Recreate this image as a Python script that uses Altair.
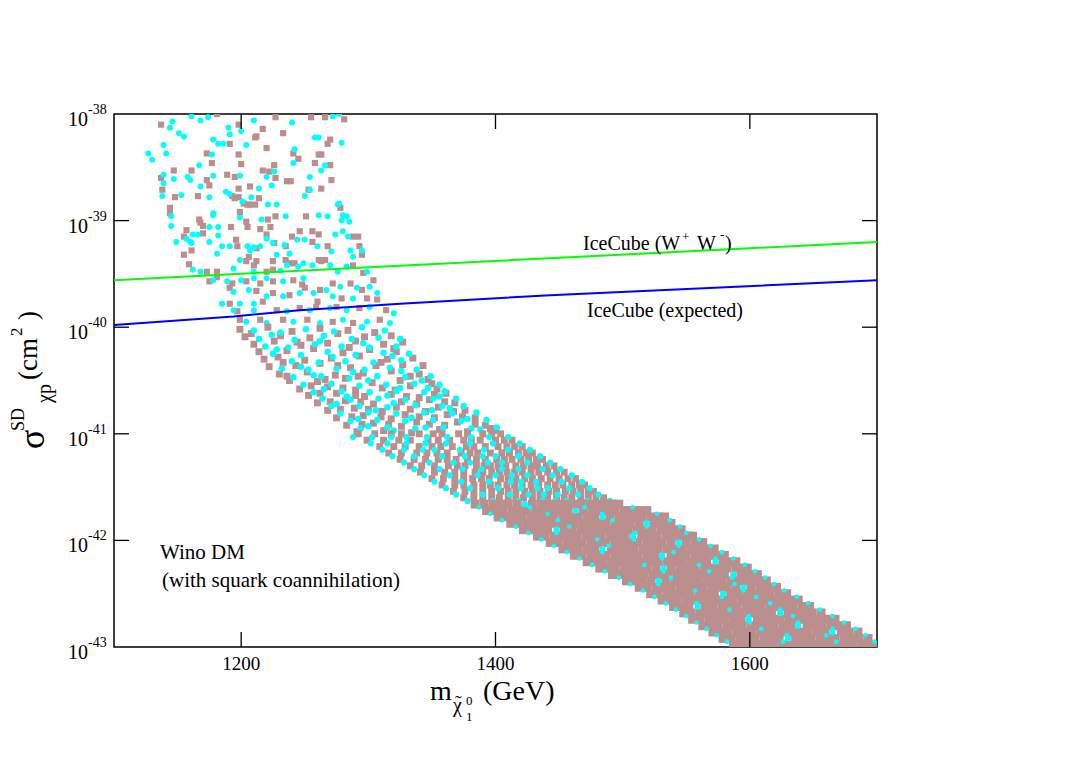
import altair as alt
import pandas as pd

FONT = "Liberation Serif"
W, H = 763, 533

# ---------------- data (mass in GeV, log10 of sigma in cm^2) ----------------
x_ticks = [1200, 1400, 1600]
y_tick_exps = [-38, -39, -40, -41, -42, -43]

ice_ww_mass = [1100, 1246, 1482, 1700]
ice_ww_log = [-39.56, -39.47, -39.33, -39.20]
ice_expct_mass = [1100, 1194, 1246, 1325, 1443, 1700]
ice_expct_log = [-39.98, -39.90, -39.84, -39.78, -39.70, -39.56]

cyan_upper = [
    (1161,-38.02),(1168,-38.06),(1174,-38.03),(1146,-38.07),(1144,-38.13),(1200,-38.16),(1210,-38.06),
    (1272,-38.02),(1277,-38.00),(1240,-38.08),(1190,-38.13),(1191,-38.19),(1151,-38.18),(1155,-38.21),
    (1178,-38.24),(1182,-38.28),(1186,-38.28),(1204,-38.29),(1258,-38.22),(1261,-38.22),(1279,-38.27),
    (1139,-38.29),(1127,-38.37),(1130,-38.43),(1141,-38.37),(1177,-38.38),(1242,-38.33),
    (1241,-38.46),(1167,-38.48),(1226,-38.54),(1263,-38.53),(1266,-38.48),(1254,-38.59),(1139,-38.57),
    (1147,-38.61),(1158,-38.59),(1160,-38.62),(1178,-38.58),(1199,-38.58),(1220,-38.59),
    (1168,-38.68),(1214,-38.70),(1224,-38.67),(1139,-38.65),(1153,-38.76),(1138,-38.77),(1175,-38.78),
    (1188,-38.73),(1191,-38.75),(1201,-38.82),(1208,-38.78),(1221,-38.85),(1228,-38.85),(1250,-38.77),
    (1254,-38.71),(1277,-38.84),
    (1145,-38.96),(1145,-39.05),(1175,-39.06),(1178,-38.93),(1178,-38.95),(1199,-38.97),(1216,-38.99),
    (1235,-38.96),(1261,-38.95),(1268,-38.96),(1280,-38.95),(1283,-38.96),(1279,-39.00),(1285,-39.01),
    (1276,-38.85),(1182,-39.06),
    (1157,-39.17),(1162,-39.13),(1166,-39.13),(1175,-39.20),(1149,-39.20),(1160,-39.20),(1161,-39.21),
    (1182,-39.14),(1185,-39.24),(1191,-39.24),(1181,-39.31),(1205,-39.24),(1207,-39.28),(1210,-39.25),
    (1215,-39.24),(1225,-39.21),(1220,-39.17),(1234,-39.23),(1244,-39.18),(1250,-39.18),(1260,-39.24),
    (1274,-39.13),(1280,-39.10),(1284,-39.15),(1286,-39.28),(1295,-39.28),(1271,-39.29),(1288,-39.34),
    (1238,-39.31),
    (1162,-39.46),(1168,-39.48),(1194,-39.45),(1199,-39.37),(1228,-39.32),(1236,-39.42),(1245,-39.43),
    (1249,-39.40),(1256,-39.42),(1270,-39.42),(1276,-39.48),(1283,-39.43),(1299,-39.48),(1210,-39.48),
    (1231,-39.47),
    (1178,-39.56),(1189,-39.57),(1200,-39.56),(1210,-39.54),(1220,-39.54),(1233,-39.57),(1249,-39.54),
    (1194,-39.67),(1206,-39.65),(1220,-39.71),(1233,-39.71),(1246,-39.68),(1257,-39.68),(1267,-39.65),
    (1278,-39.62),(1291,-39.63),(1301,-39.62),(1272,-39.71),(1288,-39.73),(1307,-39.68),(1185,-39.78),
    (1199,-39.78),(1210,-39.78),
    (1194,-39.84),(1210,-39.84),(1236,-39.85),(1254,-39.84),(1270,-39.82),(1283,-39.84),(1301,-39.81),
    (1320,-39.87),(1204,-39.95),(1220,-39.96),(1241,-39.95),(1262,-39.96),(1280,-39.93),(1299,-39.95),
    (1317,-39.96),
]

brown_upper = [
    (1181,-38.00),(1137,-38.10),(1227,-38.03),(1255,-38.03),(1266,-38.03),(1281,-38.05),(1233,-38.18),
    (1212,-38.21),(1217,-38.14),(1198,-38.10),
    (1191,-38.28),(1211,-38.22),(1220,-38.32),(1270,-38.24),(1268,-38.28),(1173,-38.37),(1241,-38.37),
    (1198,-38.38),
    (1245,-38.42),(1261,-38.38),(1263,-38.38),(1258,-38.46),(1177,-38.46),(1200,-38.47),(1226,-38.48),
    (1270,-38.48),(1147,-38.53),(1161,-38.53),(1137,-38.60),(1173,-38.62),(1189,-38.57),(1195,-38.59),
    (1217,-38.53),(1222,-38.54),(1227,-38.60),(1236,-38.63),(1239,-38.63),(1271,-38.62),
    (1175,-38.67),(1207,-38.68),(1198,-38.70),(1138,-38.71),(1148,-38.78),(1166,-38.77),(1193,-38.77),
    (1195,-38.79),(1198,-38.78),(1202,-38.84),(1205,-38.85),(1207,-38.85),(1211,-38.85),(1214,-38.79),
    (1253,-38.71),(1263,-38.70),
    (1144,-38.88),(1144,-38.93),(1167,-38.99),(1168,-39.02),(1170,-39.05),(1199,-38.92),(1204,-39.01),
    (1221,-38.99),(1227,-38.96),(1251,-38.96),(1278,-38.88),(1192,-39.06),(1205,-39.06),(1215,-39.08),
    (1223,-39.06),
    (1157,-39.09),(1155,-39.15),(1170,-39.12),(1161,-39.28),(1155,-39.32),(1196,-39.18),(1197,-39.24),
    (1206,-39.34),(1212,-39.26),(1226,-39.21),(1220,-39.13),(1235,-39.24),(1246,-39.10),(1240,-39.15),
    (1256,-39.10),(1256,-39.20),(1261,-39.13),(1268,-39.24),(1288,-39.15),(1292,-39.15),(1293,-39.24),
    (1295,-39.32),
    (1159,-39.41),(1173,-39.48),(1181,-39.48),(1204,-39.38),(1210,-39.42),(1212,-39.38),(1225,-39.38),
    (1235,-39.37),(1238,-39.40),(1242,-39.40),(1261,-39.37),(1263,-39.38),(1266,-39.37),(1288,-39.42),
    (1296,-39.49),(1220,-39.48),(1225,-39.46),
    (1175,-39.57),(1181,-39.53),(1193,-39.59),(1204,-39.57),(1215,-39.59),(1225,-39.57),(1241,-39.56),
    (1250,-39.63),(1248,-39.60),(1191,-39.63),(1212,-39.66),(1225,-39.68),(1238,-39.70),(1262,-39.65),
    (1272,-39.59),(1286,-39.59),(1295,-39.65),(1304,-39.56),(1279,-39.73),(1299,-39.73),(1307,-39.74),
    (1191,-39.78),(1217,-39.76),(1260,-39.76),
    (1197,-39.85),(1228,-39.84),(1246,-39.82),(1259,-39.81),(1275,-39.81),(1293,-39.82),(1314,-39.84),
    (1199,-39.93),(1215,-39.93),(1233,-39.93),(1252,-39.93),(1272,-39.95),(1288,-39.96),(1309,-39.93),
]

brown_band = [
    (1199,-40.02),(1221,-40.00),(1240,-40.04),(1262,-40.01),(1284,-40.03),(1305,-40.05),
    (1203,-40.09),(1231,-40.08),(1254,-40.10),(1276,-40.06),(1297,-40.09),(1318,-40.08),
    (1210,-40.16),(1226,-40.13),(1247,-40.17),(1268,-40.15),(1290,-40.13),(1312,-40.16),(1327,-40.14),
    (1214,-40.23),(1236,-40.22),(1257,-40.20),(1280,-40.24),(1301,-40.21),(1322,-40.23),
    (1218,-40.30),(1229,-40.28),(1250,-40.31),(1271,-40.29),(1293,-40.27),(1315,-40.30),(1335,-40.29),
    (1222,-40.37),(1243,-40.36),(1262,-40.34),(1286,-40.38),(1306,-40.36),(1327,-40.35),
    (1230,-40.44),(1252,-40.42),(1274,-40.45),(1296,-40.43),(1318,-40.41),(1340,-40.44),
    (1238,-40.50),(1260,-40.51),(1282,-40.48),(1303,-40.52),(1325,-40.50),(1347,-40.49),
    (1246,-40.58),(1268,-40.56),(1290,-40.59),(1311,-40.57),(1333,-40.55),(1354,-40.58),
    (1253,-40.64),(1275,-40.62),(1297,-40.65),(1318,-40.63),(1340,-40.66),(1361,-40.62),
    (1260,-40.71),(1282,-40.69),(1304,-40.72),(1326,-40.70),(1348,-40.68),(1368,-40.71),
    (1268,-40.78),(1289,-40.76),(1311,-40.79),(1333,-40.77),(1355,-40.75),(1376,-40.78),
    (1275,-40.85),(1296,-40.83),(1318,-40.86),(1340,-40.84),(1362,-40.82),(1384,-40.85),
    (1283,-40.92),(1304,-40.90),(1326,-40.93),(1348,-40.91),(1370,-40.89),(1392,-40.92),
    (1291,-40.98),(1312,-40.97),(1334,-40.99),(1356,-40.96),(1378,-40.98),(1400,-40.97),
    (1208,-40.06),(1244,-40.14),(1285,-40.19),(1320,-40.20),(1233,-40.33),(1276,-40.36),(1310,-40.33),
    (1343,-40.36),(1236,-40.46),(1266,-40.49),(1292,-40.46),(1333,-40.46),(1350,-40.53),(1255,-40.55),
    (1280,-40.57),(1321,-40.59),(1262,-40.62),(1290,-40.64),(1330,-40.65),(1352,-40.63),(1270,-40.70),
    (1294,-40.70),(1338,-40.72),(1360,-40.70),(1278,-40.77),(1300,-40.77),(1322,-40.75),(1345,-40.79),
    (1367,-40.79),(1287,-40.84),(1310,-40.84),(1329,-40.82),(1352,-40.85),(1374,-40.84),(1295,-40.91),
    (1316,-40.91),(1338,-40.89),(1360,-40.92),(1384,-40.91),(1396,-40.95),
]

cyan_band = [
    (1210,-40.03),(1231,-40.05),(1251,-40.02),(1273,-40.04),(1295,-40.00),(1313,-40.03),
    (1214,-40.11),(1242,-40.12),(1265,-40.08),(1287,-40.11),(1308,-40.10),(1325,-40.11),
    (1219,-40.18),(1237,-40.19),(1258,-40.16),(1279,-40.18),(1301,-40.19),(1322,-40.18),
    (1225,-40.25),(1247,-40.26),(1268,-40.23),(1290,-40.26),(1312,-40.24),(1332,-40.25),
    (1240,-40.32),(1261,-40.33),(1282,-40.32),(1304,-40.33),(1326,-40.31),
    (1232,-40.39),(1253,-40.40),(1275,-40.39),(1297,-40.40),(1317,-40.38),(1338,-40.40),
    (1241,-40.47),(1263,-40.46),(1285,-40.48),(1307,-40.46),(1329,-40.47),(1349,-40.46),
    (1249,-40.54),(1271,-40.53),(1293,-40.55),(1314,-40.54),(1336,-40.53),(1356,-40.54),
    (1257,-40.61),(1279,-40.60),(1301,-40.61),(1322,-40.60),(1344,-40.61),(1360,-40.60),
    (1264,-40.67),(1286,-40.68),(1308,-40.67),(1329,-40.68),(1351,-40.67),(1369,-40.67),
    (1271,-40.74),(1293,-40.74),(1315,-40.75),(1337,-40.73),(1358,-40.74),(1375,-40.74),
    (1278,-40.81),(1300,-40.80),(1322,-40.81),(1344,-40.80),(1366,-40.81),(1385,-40.80),
    (1286,-40.88),(1307,-40.87),(1329,-40.88),(1351,-40.87),(1373,-40.88),(1393,-40.87),
    (1294,-40.95),(1315,-40.94),(1337,-40.95),(1359,-40.94),(1381,-40.95),(1401,-40.94),
    (1224,-40.07),(1262,-40.13),(1296,-40.15),(1228,-40.21),(1272,-40.28),(1319,-40.27),(1247,-40.37),
    (1288,-40.42),(1326,-40.41),(1257,-40.45),(1300,-40.50),(1342,-40.50),(1265,-40.58),(1325,-40.57),
    (1347,-40.57),(1283,-40.65),(1315,-40.64),(1356,-40.65),(1275,-40.72),(1320,-40.71),(1364,-40.76),
    (1306,-40.78),(1350,-40.78),(1292,-40.86),(1334,-40.85),(1378,-40.86),(1300,-40.93),(1345,-40.94),
    (1388,-40.96),(1320,-40.97),
]

# rows of the denser part of the band: (log10 sigma, [masses])
brown_rows_mid = [
    (-41.00, [1292, 1305, 1318, 1326, 1340, 1351, 1358, 1371, 1378, 1390, 1397, 1404]),
    (-41.06, [1299, 1312, 1324, 1333, 1347, 1355, 1364, 1375, 1381, 1388, 1400, 1407, 1413]),
    (-41.12, [1309, 1320, 1329, 1340, 1350, 1357, 1366, 1377, 1383, 1392, 1402, 1409, 1415, 1421]),
    (-41.18, [1316, 1326, 1338, 1346, 1354, 1362, 1373, 1380, 1386, 1396, 1405, 1411, 1418, 1424, 1429]),
    (-41.24, [1325, 1336, 1345, 1355, 1362, 1369, 1378, 1385, 1392, 1401, 1407, 1413, 1420, 1426, 1432, 1437]),
    (-41.30, [1333, 1342, 1352, 1363, 1370, 1376, 1385, 1391, 1396, 1402, 1408, 1416, 1422, 1428, 1433, 1440, 1446]),
    (-41.36, [1341, 1352, 1360, 1368, 1375, 1384, 1390, 1397, 1403, 1409, 1415, 1421, 1428, 1434, 1441, 1448, 1454]),
    (-41.42, [1350, 1359, 1368, 1375, 1382, 1389, 1395, 1404, 1410, 1416, 1423, 1429, 1436, 1443, 1450, 1457, 1463]),
    (-41.48, [1358, 1368, 1375, 1383, 1390, 1396, 1402, 1409, 1415, 1421, 1428, 1434, 1441, 1447, 1453, 1460, 1466, 1470]),
    (-41.54, [1367, 1376, 1383, 1390, 1397, 1404, 1410, 1416, 1423, 1429, 1435, 1442, 1448, 1455, 1461, 1467, 1473, 1477]),
    (-41.60, [1375, 1383, 1390, 1397, 1403, 1410, 1416, 1422, 1429, 1435, 1441, 1448, 1454, 1460, 1467, 1473, 1479, 1485]),
]

brown_rows_dense = [
    (-41.66, [1384, 1391, 1398, 1404, 1410, 1417, 1429, 1436, 1442, 1448, 1455, 1461, 1467, 1474, 1480, 1486, 1492, 1497]),
    (-41.72, [1393, 1400, 1406, 1413, 1419, 1425, 1432, 1438, 1444, 1451, 1457, 1469, 1476, 1482, 1488, 1494, 1501, 1507, 1513, 1519]),
    (-41.78, [1402, 1408, 1415, 1421, 1428, 1434, 1440, 1446, 1453, 1459, 1465, 1472, 1478, 1490, 1497, 1503, 1509, 1515, 1522, 1528, 1533]),
    (-41.84, [1412, 1418, 1425, 1431, 1437, 1444, 1450, 1456, 1462, 1469, 1475, 1481, 1487, 1494, 1500, 1506, 1513, 1525, 1532, 1538]),
    (-41.90, [1422, 1429, 1435, 1441, 1454, 1460, 1467, 1473, 1479, 1485, 1492, 1498, 1504, 1511, 1517, 1523, 1530, 1536, 1542, 1546]),
    (-41.96, [1433, 1439, 1446, 1452, 1458, 1464, 1471, 1477, 1483, 1490, 1496, 1502, 1515, 1521, 1527, 1534, 1540, 1546, 1552, 1555]),
    (-42.02, [1443, 1449, 1456, 1462, 1468, 1475, 1481, 1487, 1494, 1500, 1506, 1512, 1519, 1525, 1531, 1538, 1550, 1557, 1563]),
    (-42.08, [1453, 1459, 1465, 1472, 1478, 1491, 1497, 1503, 1509, 1516, 1522, 1528, 1535, 1541, 1547, 1554, 1560, 1566, 1572]),
    (-42.14, [1462, 1468, 1475, 1481, 1487, 1494, 1500, 1506, 1512, 1519, 1525, 1538, 1544, 1550, 1557, 1563, 1569, 1575, 1580]),
    (-42.20, [1472, 1478, 1484, 1491, 1497, 1503, 1510, 1516, 1522, 1528, 1535, 1541, 1547, 1554, 1560, 1566, 1579, 1585, 1589]),
    (-42.26, [1482, 1488, 1494, 1501, 1507, 1513, 1519, 1526, 1538, 1545, 1551, 1557, 1564, 1570, 1576, 1582, 1589, 1595, 1598]),
    (-42.32, [1492, 1499, 1505, 1511, 1517, 1524, 1530, 1536, 1543, 1549, 1555, 1562, 1568, 1574, 1580, 1593, 1599, 1606]),
    (-42.38, [1503, 1509, 1515, 1522, 1534, 1541, 1547, 1553, 1559, 1566, 1572, 1578, 1585, 1591, 1597, 1603, 1609, 1613]),
    (-42.44, [1513, 1519, 1526, 1532, 1538, 1545, 1551, 1557, 1563, 1570, 1576, 1582, 1589, 1601, 1608, 1614, 1621]),
    (-42.50, [1522, 1528, 1535, 1541, 1547, 1553, 1560, 1566, 1572, 1585, 1591, 1598, 1604, 1610, 1616, 1623, 1629]),
    (-42.56, [1531, 1537, 1543, 1550, 1556, 1562, 1569, 1575, 1581, 1587, 1594, 1600, 1606, 1613, 1619, 1625, 1632, 1638]),
    (-42.62, [1540, 1546, 1552, 1565, 1571, 1578, 1584, 1590, 1597, 1603, 1609, 1616, 1622, 1628, 1634, 1641, 1647]),
    (-42.68, [1548, 1554, 1561, 1567, 1573, 1580, 1586, 1592, 1599, 1605, 1611, 1617, 1630, 1636, 1643, 1649, 1656]),
    (-42.74, [1555, 1561, 1568, 1574, 1580, 1587, 1593, 1606, 1612, 1618, 1624, 1631, 1637, 1643, 1650, 1656, 1662, 1667]),
    (-42.80, [1563, 1569, 1575, 1582, 1588, 1594, 1601, 1607, 1613, 1619, 1626, 1632, 1645, 1651, 1657, 1664, 1670, 1676]),
    (-42.86, [1571, 1577, 1583, 1590, 1596, 1602, 1609, 1615, 1621, 1628, 1634, 1640, 1646, 1653, 1659, 1672, 1678, 1685]),
    (-42.92, [1579, 1585, 1592, 1598, 1604, 1611, 1617, 1623, 1636, 1642, 1648, 1655, 1661, 1667, 1674, 1680, 1686, 1693]),
    (-42.98, [1587, 1593, 1599, 1606, 1612, 1618, 1625, 1631, 1637, 1643, 1650, 1656, 1662, 1669, 1675, 1681, 1688, 1694, 1699]),
]

cyan_rows_mid = [
    (-41.03, [1288, 1303, 1318, 1330, 1346, 1362, 1381, 1395, 1410]),
    (-41.09, [1302, 1315, 1330, 1345, 1361, 1380, 1398, 1419]),
    (-41.15, [1311, 1328, 1343, 1352, 1372, 1391, 1410, 1427]),
    (-41.21, [1319, 1336, 1358, 1376, 1390, 1400, 1418, 1435]),
    (-41.27, [1328, 1348, 1367, 1380, 1394, 1405, 1425, 1443]),
    (-41.33, [1336, 1356, 1374, 1389, 1405, 1418, 1437, 1451]),
    (-41.39, [1344, 1364, 1386, 1400, 1413, 1425, 1445, 1460]),
    (-41.45, [1352, 1373, 1395, 1412, 1420, 1432, 1452, 1468]),
    (-41.51, [1361, 1380, 1402, 1420, 1433, 1441, 1458, 1474]),
    (-41.57, [1369, 1390, 1411, 1426, 1438, 1449, 1465, 1481]),
    (-41.63, [1378, 1398, 1418, 1437, 1447, 1456, 1472, 1490]),
]

cyan_rows_dense = [
    (-41.69, [1387, 1427, 1470, 1508]),
    (-41.75, [1396, 1441, 1484, 1527]),
    (-41.81, [1405, 1449, 1492, 1537]),
    (-41.87, [1416, 1458, 1519, 1545]),
    (-41.93, [1426, 1448, 1510, 1550]),
    (-41.99, [1436, 1480, 1509, 1560]),
    (-42.05, [1446, 1489, 1544, 1569]),
    (-42.11, [1456, 1484, 1540, 1578]),
    (-42.17, [1466, 1531, 1573, 1587]),
    (-42.23, [1476, 1517, 1560, 1596]),
    (-42.29, [1486, 1532, 1568, 1604]),
    (-42.35, [1497, 1538, 1586, 1612]),
    (-42.41, [1506, 1528, 1588, 1619]),
    (-42.47, [1516, 1557, 1595, 1627]),
    (-42.53, [1525, 1578, 1605, 1637]),
    (-42.59, [1534, 1558, 1616, 1646]),
    (-42.65, [1542, 1584, 1624, 1655]),
    (-42.71, [1550, 1599, 1634, 1665]),
    (-42.77, [1558, 1600, 1638, 1674]),
    (-42.83, [1566, 1609, 1665, 1683]),
    (-42.89, [1574, 1629, 1660, 1691]),
    (-42.95, [1582, 1626, 1668, 1698]),
]

# cyan points sitting in the openings of the dense brown rows
cyan_in_gaps = [
    (1423,-41.66),(1463,-41.72),(1484,-41.78),(1519,-41.84),(1448,-41.90),(1508,-41.96),(1544,-42.02),
    (1484,-42.08),(1531,-42.14),(1573,-42.20),(1532,-42.26),(1587,-42.32),(1528,-42.38),(1595,-42.44),
    (1579,-42.50),(1559,-42.62),(1624,-42.68),(1599,-42.74),(1638,-42.80),(1665,-42.86),(1630,-42.92),
]


# ---------------- helpers ----------------
def pts_df(pairs):
    return pd.DataFrame({"mass": [p[0] for p in pairs],
                         "sigma": [10.0 ** p[1] for p in pairs]})


def rows_df(rows):
    return pts_df([(m, e) for e, ms in rows for m in ms])


X = alt.X("mass:Q", scale=alt.Scale(domain=[1100, 1700], nice=False, zero=False), axis=None)
Y = alt.Y("sigma:Q", scale=alt.Scale(type="log", domain=[1e-43, 1e-38], nice=False), axis=None)

CYAN = "#00FFFF"
BROWN = "#BC8F8F"


def circles(df, size):
    return alt.Chart(df).mark_point(shape="circle", filled=True, size=size, color=CYAN,
                                    opacity=1, clip=True).encode(x=X, y=Y)


def squares(df, size):
    return alt.Chart(df).mark_square(size=size, color=BROWN, opacity=1, clip=True).encode(x=X, y=Y)


brown_sparse = squares(pts_df(brown_upper), 38)
cyan_sparse = circles(pts_df(cyan_upper), 36)
brown_b = squares(pts_df(brown_band), 48)
cyan_b = circles(pts_df(cyan_band), 42)
brown_mid = squares(rows_df(brown_rows_mid), 48)
cyan_mid = circles(rows_df(cyan_rows_mid), 38)
brown_dense = squares(rows_df(brown_rows_dense), 80)
cyan_dense = circles(rows_df(cyan_rows_dense), 22)
cyan_gap = circles(pts_df(cyan_in_gaps), 40)

line_ww = alt.Chart(pts_df(list(zip(ice_ww_mass, ice_ww_log)))).mark_line(
    color="#00FF00", strokeWidth=2, clip=True).encode(x=X, y=Y)
line_exp = alt.Chart(pts_df(list(zip(ice_expct_mass, ice_expct_log)))).mark_line(
    color="#0000FF", strokeWidth=2, clip=True).encode(x=X, y=Y)

xt_df = pd.DataFrame({"mass": x_ticks, "label": [str(t) for t in x_ticks]})
yt_df = pd.DataFrame({"sigma": [10.0 ** e for e in y_tick_exps],
                      "sup": [str(e) for e in y_tick_exps]})
yt_inner = yt_df.iloc[1:-1]

TICK = dict(color="black", strokeWidth=1.3)
tick_bottom = alt.Chart(xt_df).mark_rule(**TICK).encode(x=X, y=alt.value(H), y2=alt.value(H - 15))
tick_top = alt.Chart(xt_df).mark_rule(**TICK).encode(x=X, y=alt.value(0), y2=alt.value(15))
tick_left = alt.Chart(yt_inner).mark_rule(**TICK).encode(y=Y, x=alt.value(0), x2=alt.value(15))
tick_right = alt.Chart(yt_inner).mark_rule(**TICK).encode(y=Y, x=alt.value(W), x2=alt.value(W - 15))

xlab = alt.Chart(xt_df).mark_text(font=FONT, fontSize=19, align="center", baseline="alphabetic",
                                  color="black").encode(x=X, y=alt.value(556), text="label:N")
ylab_ten = alt.Chart(yt_df).mark_text(text="10", font=FONT, fontSize=20, align="right",
                                      baseline="alphabetic", dy=12, color="black").encode(
    y=Y, x=alt.value(-26))
ylab_sup = alt.Chart(yt_df).mark_text(font=FONT, fontSize=14, align="left", baseline="alphabetic",
                                      dy=0, color="black").encode(y=Y, x=alt.value(-26), text="sup:N")

one = pd.DataFrame({"k": [0]})


def label(txt, px, py, size, angle=0):
    return alt.Chart(one).mark_text(text=txt, font=FONT, fontSize=size, angle=angle, align="left",
                                    baseline="alphabetic", color="black").encode(
        x=alt.value(px), y=alt.value(py))


labels = [
    ("m", 316, 586, 28, 0),
    ("\u03c7", 339, 598, 20, 0),
    ("\u02dc", 341, 596, 20, 0),
    ("0", 352, 591, 13, 0),
    ("1", 352, 607, 13, 0),
    ("(GeV)", 369, 586, 28, 0),
    ("\u03c3", -70, 335, 36, 270),
    ("SD", -90, 317, 18, 270),
    ("\u03c7p", -63, 289, 20, 270),
    ("(cm", -77, 266, 27, 270),
    ("2", -92, 222, 17, 270),
    (")", -77, 206, 27, 270),
    ("Wino DM", 46, 445, 21, 0),
    ("(with squark coannihilation)", 48, 473, 21, 0),
    ("IceCube (expected)", 473, 203, 20, 0),
    ("IceCube (W", 469, 136, 20, 0),
    ("+", 568, 127, 13, 0),
    ("W", 583, 136, 20, 0),
    ("-", 606, 125, 13, 0),
    (")", 611, 136, 20, 0),
]
label_layers = [label(*l) for l in labels]

chart = alt.layer(
    brown_sparse, cyan_sparse, brown_b, cyan_b, brown_mid, cyan_mid,
    brown_dense, cyan_dense, cyan_gap,
    line_ww, line_exp,
    tick_bottom, tick_top, tick_left, tick_right,
    xlab, ylab_ten, ylab_sup,
    *label_layers,
).properties(
    width=W, height=H,
    autosize=alt.AutoSizeParams(type="none"),
    padding={"left": 106, "top": 106, "right": 190, "bottom": 105},
).configure_view(stroke="black", strokeWidth=1.5)

chart.save("out.html", embed_options={"renderer": "svg", "actions": False})
